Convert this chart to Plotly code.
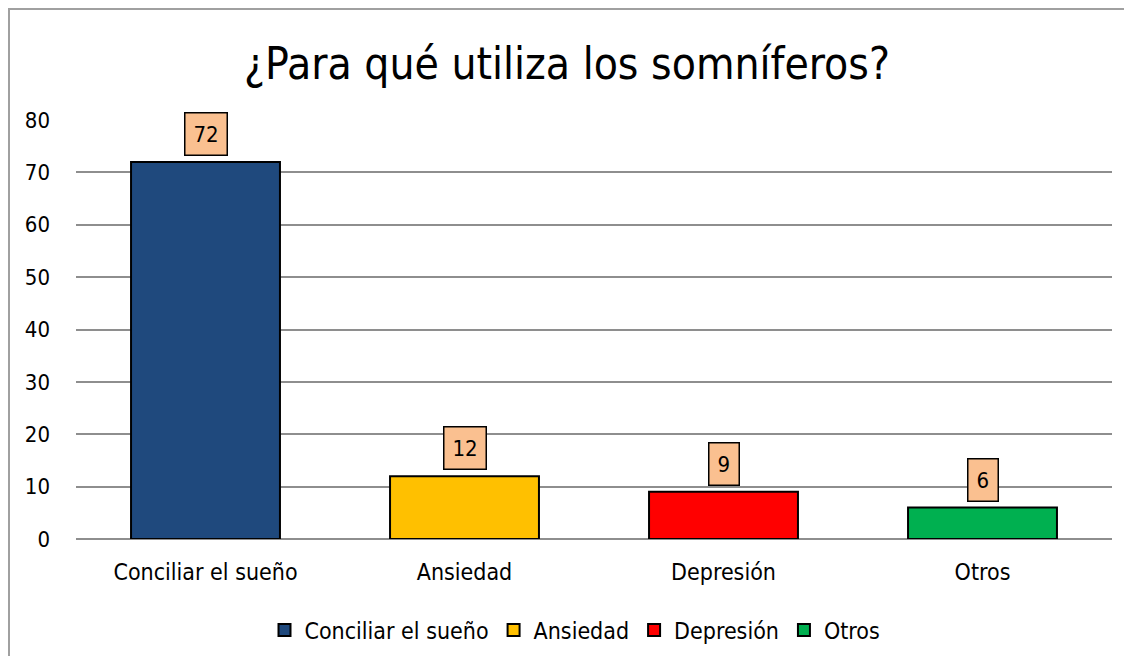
import plotly.graph_objects as go

categories = ["Conciliar el sueño", "Ansiedad", "Depresión", "Otros"]
values = [72, 12, 9, 6]
colors = ["#1F497D", "#FFC000", "#FF0000", "#00B050"]
y_ticks = [0, 10, 20, 30, 40, 50, 60, 70, 80]
title_text = "¿Para qué utiliza los somníferos?"

FONT = "DejaVu Sans Condensed, Liberation Sans Narrow, sans-serif"

OFF = 8  # page body margin
W, H = 1132 - 2 * OFF, 664 - 2 * OFF
# plot area in reference (screen) pixels
PX0, PX1, PY_TOP, PY_BOT = 76, 1112, 120, 539
L = PX0 - OFF
R = W - (PX1 - OFF)
T = PY_TOP - OFF
B = H - (PY_BOT - OFF)
pw, ph = W - L - R, H - T - B


def px_x(x):
    return (x - OFF - L) / pw


def px_y(y):
    return (H - B - (y - OFF)) / ph


fig = go.Figure()
for cat, val, col in zip(categories, values, colors):
    fig.add_trace(go.Bar(
        x=[cat], y=[val], name=cat, width=0.575,
        marker=dict(color=col, line=dict(color="#000000", width=2)),
    ))
    fig.add_annotation(
        x=cat, y=val, xref="x", yref="y", text=f"{val}", showarrow=False,
        yanchor="bottom", yshift=6,
        font=dict(family=FONT, size=22, color="#000000"),
        bgcolor="#FAC090", bordercolor="#000000", borderwidth=1.5, borderpad=8,
    )

# chart-area border (top and left edges visible in the frame)
border = dict(color="#A0A0A0", width=2)
fig.add_shape(type="line", xref="paper", yref="paper",
              x0=px_x(OFF), x1=px_x(OFF + W), y0=px_y(OFF + 1), y1=px_y(OFF + 1),
              line=border, layer="below")
fig.add_shape(type="line", xref="paper", yref="paper",
              x0=px_x(OFF + 1), x1=px_x(OFF + 1), y0=px_y(OFF + 1), y1=px_y(OFF + H),
              line=border, layer="below")

fig.update_layout(
    width=W, height=H,
    margin=dict(l=L, r=R, t=T, b=B, autoexpand=False),
    paper_bgcolor="#FFFFFF", plot_bgcolor="#FFFFFF",
    barmode="overlay",
    title=dict(text=title_text, x=px_x(567), xref="paper", xanchor="center",
               y=1 - 56 / H, yref="container", yanchor="middle",
               font=dict(family=FONT, size=44, color="#000000")),
    font=dict(family=FONT, size=22, color="#000000"),
    showlegend=True,
    legend=dict(orientation="h", x=px_x(575), xanchor="center",
                y=px_y(630), yanchor="middle",
                font=dict(family=FONT, size=23, color="#000000"),
                itemwidth=30, traceorder="normal"),
    xaxis=dict(categoryorder="array", categoryarray=categories,
               showgrid=False, showline=False, ticks="",
               ticklabelstandoff=17,
               tickfont=dict(family=FONT, size=23, color="#000000")),
    yaxis=dict(range=[0, 80], tickvals=y_ticks, showgrid=True,
               gridcolor="#8E8E8E", gridwidth=2, zeroline=True,
               zerolinecolor="#8E8E8E", zerolinewidth=2, showline=False,
               ticks="", ticklabelstandoff=25,
               tickfont=dict(family=FONT, size=22, color="#000000")),
)

fig.write_html("out.html")
